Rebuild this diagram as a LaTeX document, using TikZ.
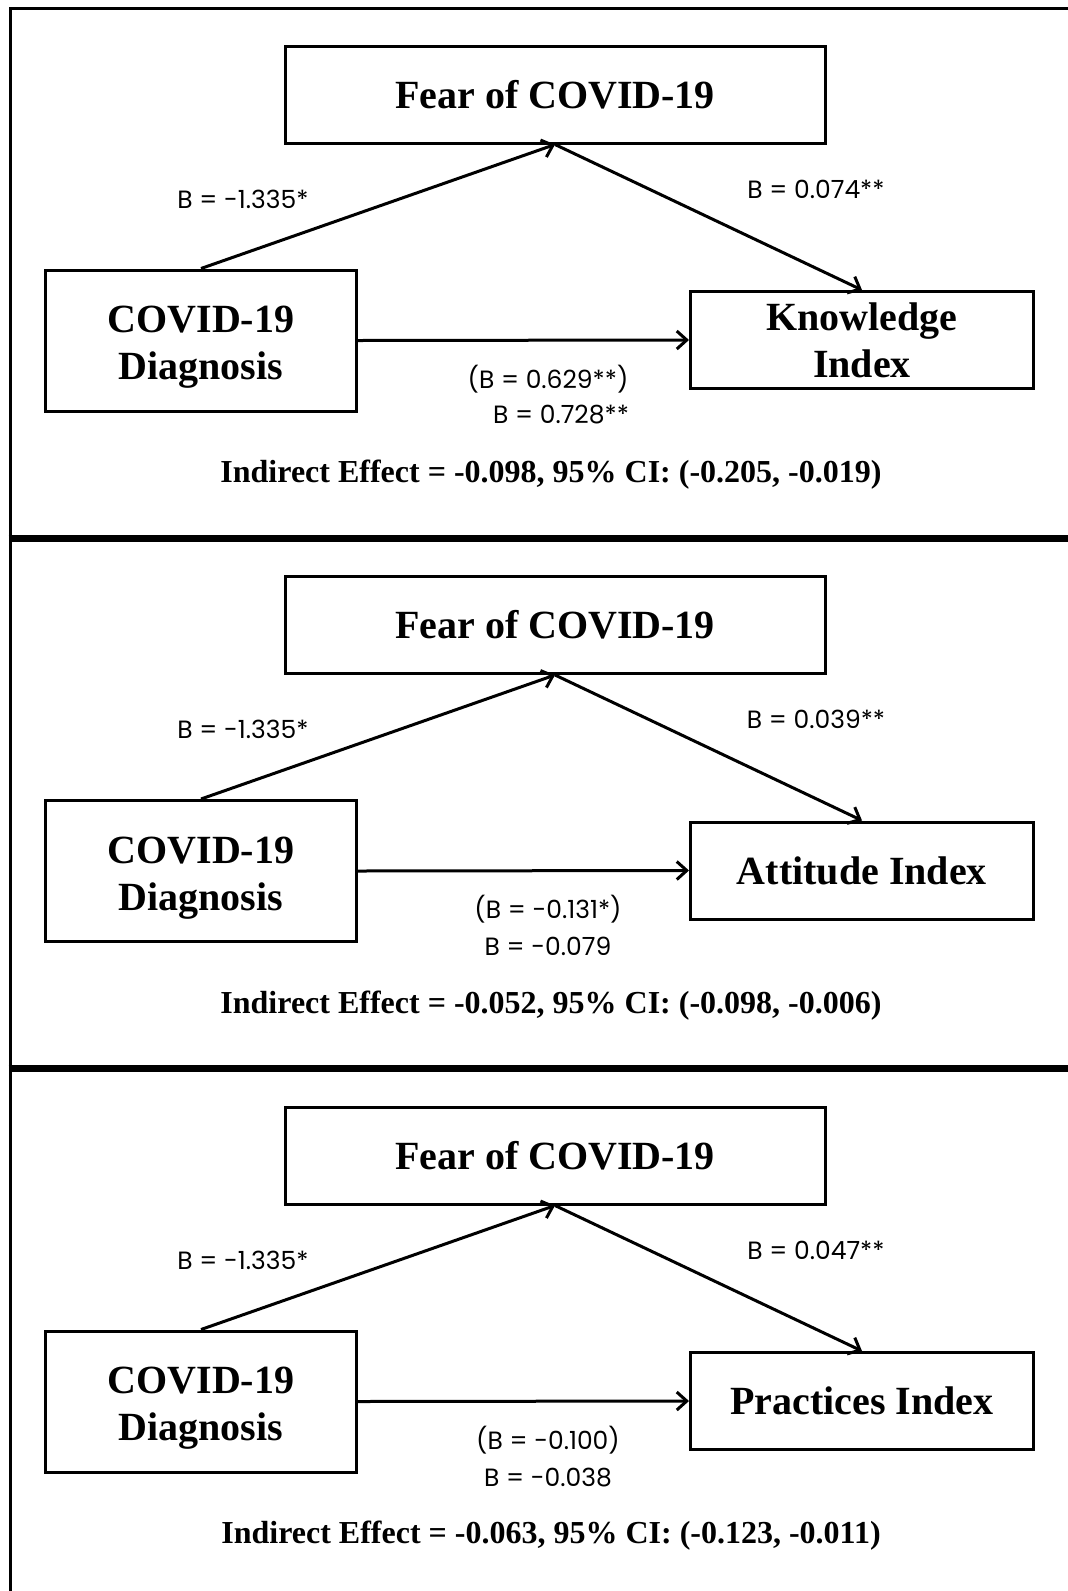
\documentclass[tikz,border=0pt]{standalone}
\usepackage{fontspec}
\setmainfont{Liberation Serif}
\newfontfamily\coeffont{Poppins}
\usetikzlibrary{arrows.meta}

\newcommand{\diagtext}{\rule{0pt}{40pt}COVID-19\\Diagnosis}

\begin{document}
\begin{tikzpicture}[
  x=1pt, y=-1pt,
  box/.style={rectangle, draw, line width=3pt, align=center, inner sep=0pt,
    font=\bfseries\fontsize{40}{47}\selectfont},
  arrow/.style={-{Straight Barb[length=10pt,width=18pt,line width=3pt]}, line width=3pt},
  coef/.style={font=\coeffont\fontsize{25}{30}\selectfont},
  effect/.style={font=\bfseries\fontsize{32}{38}\selectfont},
  frame/.style={line width=3pt},
  divider/.style={line width=7pt}
]
  \useasboundingbox (0,0) rectangle (1068,1591);

  % frame and panel dividers
  \draw[frame] (10,1591) -- (10,8) -- (1068,8);
  \draw[divider] (8.5,538) -- (1068,538);
  \draw[divider] (8.5,1068) -- (1068,1068);

  % knowledge
  \node[box, minimum width=540pt, minimum height=97pt] (fear1) at (555,94.5) {Fear of COVID-19};
  \node[box, minimum width=311pt, minimum height=141pt] (diag1) at (201,340.5) {\diagtext};
  \node[box, minimum width=343pt, minimum height=97pt] (know1) at (862,340) {Knowledge\\Index};

  \draw[arrow] (diag1.north) -- (fear1.south);
  \draw[arrow] (fear1.south) -- (know1.north);
  \draw[arrow] (diag1.east) -- (know1.west);

  \node[coef] (a1) at (243,199) {B = -1.335*};
  \node[coef] (b1) at (816,189) {B = 0.074**};
  \node[coef] (ct1) at (548,379) {(B = 0.629**)};
  \node[coef] (c1) at (561,415) {B = 0.728**};
  \node[effect] (ind1) at (551,475) {Indirect Effect = -0.098, 95\% CI: (-0.205, -0.019)};

  % attitude
  \node[box, minimum width=540pt, minimum height=97pt] (fear2) at (555,625) {Fear of COVID-19};
  \node[box, minimum width=311pt, minimum height=141pt] (diag2) at (201,871) {\diagtext};
  \node[box, minimum width=343pt, minimum height=97pt] (att2) at (862,870.5) {Attitude Index};

  \draw[arrow] (diag2.north) -- (fear2.south);
  \draw[arrow] (fear2.south) -- (att2.north);
  \draw[arrow] (diag2.east) -- (att2.west);

  \node[coef] (a2) at (243,729.5) {B = -1.335*};
  \node[coef] (b2) at (816,719.5) {B = 0.039**};
  \node[coef] (ct2) at (548,909.5) {(B = -0.131*)};
  \node[coef] (c2) at (548,946) {B = -0.079};
  \node[effect] (ind2) at (551,1005.5) {Indirect Effect = -0.052, 95\% CI: (-0.098, -0.006)};

  % practices
  \node[box, minimum width=540pt, minimum height=97pt] (fear3) at (555,1155.5) {Fear of COVID-19};
  \node[box, minimum width=311pt, minimum height=141pt] (diag3) at (201,1401.5) {\diagtext};
  \node[box, minimum width=343pt, minimum height=97pt] (prac3) at (862,1401) {Practices Index};

  \draw[arrow] (diag3.north) -- (fear3.south);
  \draw[arrow] (fear3.south) -- (prac3.north);
  \draw[arrow] (diag3.east) -- (prac3.west);

  \node[coef] (a3) at (243,1260) {B = -1.335*};
  \node[coef] (b3) at (816,1250) {B = 0.047**};
  \node[coef] (ct3) at (548,1440) {(B = -0.100)};
  \node[coef] (c3) at (548,1478) {B = -0.038};
  \node[effect] (ind3) at (551,1536) {Indirect Effect = -0.063, 95\% CI: (-0.123, -0.011)};
\end{tikzpicture}
\end{document}
